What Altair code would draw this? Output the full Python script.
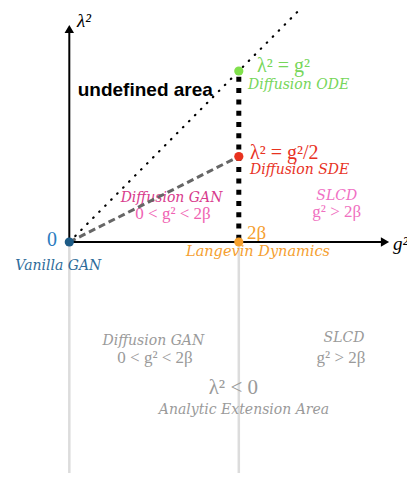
import altair as alt
import pandas as pd

# ---- coordinate frame: x = g^2, y = lambda^2 (in units of 2*beta) ----
X_DOMAIN = [-0.3617, 1.9923]
Y_DOMAIN = [-1.3509, 1.3684]

# ---- key points ----
point_names = ["Vanilla GAN", "Langevin Dynamics", "Diffusion SDE", "Diffusion ODE"]
point_g2 = [0.0, 1.0, 1.0, 1.0]
point_lam2 = [0.0, 0.0, 0.5, 1.0]
point_colors = ["#1d5b86", "#f7a12e", "#e8321f", "#80e04c"]

# ---- lines ----
diag_g2 = [0.0, 1.45]          # lambda^2 = g^2
diag_lam2 = [0.0, 1.45]
half_g2 = [0.0, 1.0]           # lambda^2 = g^2 / 2
half_lam2 = [0.0, 0.5]
vert_g2 = [1.0, 1.0]           # g^2 = 2 beta, from ODE down to Langevin
vert_lam2 = [1.0, 0.0]
ext_g2 = [0.0, 1.0]            # extension guides (lambda^2 < 0)
ext_lam2_top = [0.0, 0.0]
ext_lam2_bottom = [-1.45, -1.45]
xaxis_g2 = [0.0, 1.8625]
yaxis_lam2 = [0.0, 1.2456]

# ---- annotations ----
ann_text = ["λ²", "g²", "0", "Vanilla GAN", "2β", "Langevin Dynamics",
            "λ² = g²/2", "Diffusion SDE", "λ² = g²", "Diffusion ODE",
            "undefined area", "Diffusion GAN", "0 < g² < 2β", "SLCD", "g² > 2β",
            "Diffusion GAN", "0 < g² < 2β", "SLCD", "g² > 2β",
            "λ² < 0", "Analytic Extension Area"]
ann_g2 = [0.0454, 1.9097, -0.0726, -0.0649, 1.0484, 1.1133,
          1.0661, 1.0661, 1.1074, 1.0543,
          0.0496, 0.603, 0.6118, 1.5776, 1.5776,
          0.4956, 0.5056, 1.6207, 1.603,
          0.9676, 1.0307]
ann_lam2 = [1.2602, -0.0468, -0.0234, -0.1637, 0.0175, -0.0836,
            0.4854, 0.3959, 0.9924, 0.893,
            0.8556, 0.2357, 0.1345, 0.2456, 0.1444,
            -0.6023, -0.7076, -0.5830, -0.7076,
            -0.8889, -1.0076]
ann_color = ["#000000", "#000000", "#2b7cc0", "#2e6c9a", "#f5a030", "#f5a030",
             "#e8321f", "#e8321f", "#76d65a", "#76d65a",
             "#000000", "#d83a8c", "#f062b2", "#f070c4", "#f070c0",
             "#9a9a9a", "#9a9a9a", "#9a9a9a", "#9a9a9a",
             "#9a9a9a", "#9a9a9a"]
ann_kind = ["mathi", "mathi", "math", "label", "math", "label",
            "math", "label", "math", "label",
            "bold", "label", "small", "label", "small",
            "label", "small", "label", "small",
            "math", "label"]
ann_size = [19, 19, 20, 14, 19, 14.5,
            20, 14, 20, 14,
            19, 14, 17, 14, 17,
            14, 17, 14, 17,
            21, 14]
ann_align = ["left", "left", "right", "center", "left", "center",
             "left", "left", "left", "left",
             "left", "center", "center", "center", "center",
             "center", "center", "center", "center",
             "center", "center"]

xs = alt.Scale(domain=X_DOMAIN, nice=False, zero=False)
ys = alt.Scale(domain=Y_DOMAIN, nice=False, zero=False)
X = lambda f: alt.X(f, type="quantitative", scale=xs, axis=None)
Y = lambda f: alt.Y(f, type="quantitative", scale=ys, axis=None)


def seg(g2, lam2, **mark):
    df = pd.DataFrame({"g2": g2, "lam2": lam2, "o": list(range(len(g2)))})
    return alt.Chart(df).mark_line(clip=True, **mark).encode(
        x=X("g2"), y=Y("lam2"), order=alt.Order("o:Q"))


layers = []
# gray extension guides
for i in range(len(ext_g2)):
    layers.append(seg([ext_g2[i], ext_g2[i]], [ext_lam2_top[i], ext_lam2_bottom[i]],
                      color="#dcdcdc", strokeWidth=2.5))

# text annotations
fonts = {
    "math": dict(font="Liberation Serif"),
    "mathi": dict(font="Liberation Serif", fontStyle="italic"),
    "small": dict(font="Liberation Serif"),
    "label": dict(font="DejaVu Serif", fontStyle="italic"),
    "bold": dict(font="Liberation Sans", fontWeight="bold"),
}
text_layers = []
for i in range(len(ann_text)):
    df = pd.DataFrame({"g2": [ann_g2[i]], "lam2": [ann_lam2[i]], "t": [ann_text[i]]})
    text_layers.append(
        alt.Chart(df).mark_text(align=ann_align[i], baseline="alphabetic",
                                fontSize=ann_size[i], color=ann_color[i],
                                **fonts[ann_kind[i]])
        .encode(x=X("g2"), y=Y("lam2"), text="t:N"))

# dashed line lambda^2 = g^2/2
layers.append(seg(half_g2, half_lam2, color="#666666", strokeWidth=3,
                  strokeDash=[7, 4]))
# dotted diagonal lambda^2 = g^2
layers.append(seg(diag_g2, diag_lam2, color="#000000", strokeWidth=2.2,
                  strokeDash=[0.5, 8], strokeCap="round"))
# thick square-dotted vertical
layers.append(seg(vert_g2, vert_lam2, color="#000000", strokeWidth=5,
                  strokeDash=[5, 6.29], strokeDashOffset=5.49, strokeCap="butt"))
# axes
layers.append(seg(xaxis_g2, [0.0, 0.0], color="#000000", strokeWidth=2))
layers.append(seg([0.0, 0.0], yaxis_lam2, color="#000000", strokeWidth=2))
arrow_df = pd.DataFrame({"g2": [xaxis_g2[1], 0.0], "lam2": [0.0, yaxis_lam2[1]],
                         "shape": ["triangle-right", "triangle-up"]})
layers.append(alt.Chart(arrow_df).mark_point(filled=True, opacity=1, color="#000000",
                                             size=90, strokeWidth=0)
              .encode(x=X("g2"), y=Y("lam2"),
                      shape=alt.Shape("shape:N", scale=None, legend=None)))
# key points
pts = pd.DataFrame({"name": point_names, "g2": point_g2, "lam2": point_lam2,
                    "c": point_colors})
layers.append(alt.Chart(pts).mark_circle(size=85, opacity=1)
              .encode(x=X("g2"), y=Y("lam2"),
                      color=alt.Color("c:N", scale=None, legend=None)))

chart = alt.layer(*layers[:2], *text_layers, *layers[2:]).properties(
    width=399, height=465, padding=0, autosize="none"
).configure_view(stroke=None)

chart.save("out.html", embed_options={"renderer": "svg", "actions": False})
